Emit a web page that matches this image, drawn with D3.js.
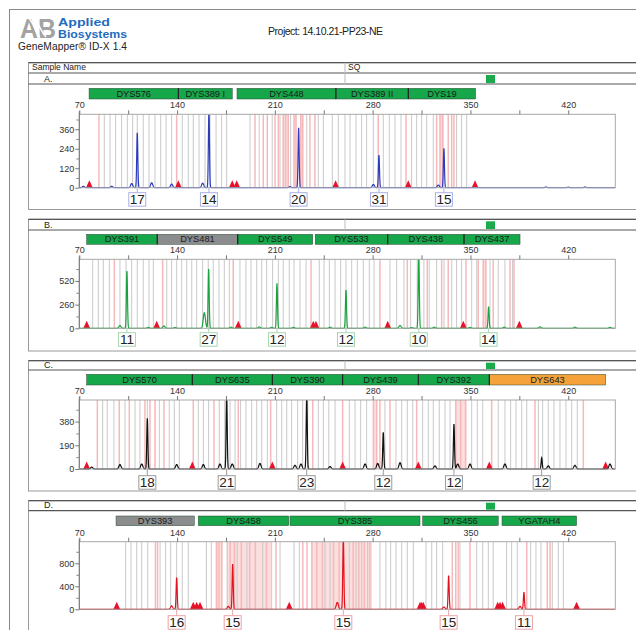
<!DOCTYPE html>
<html>
<head>
<meta charset="utf-8">
<title>GeneMapper ID-X electropherogram</title>
<script src="https://d3js.org/d3.v7.min.js"></script>
<style>
  body { margin: 0; background: #fff; }
  text { font-family: "Liberation Sans", Arial, sans-serif; }
</style>
</head>
<body>
<svg id="chart" width="636" height="630"></svg>
<script>
// ---------- data (base pairs / RFU) ----------
var xTicks = [70, 105, 140, 175, 210, 245, 280, 315, 350, 385, 420];
var xTickLabels = [70, 140, 210, 280, 350, 420];

// panel A
var lociA = [["DYS576", 77.0, 140.9, "g"], ["DYS389 I", 140.9, 179.5, "g"], ["DYS448", 182.9, 253.7, "g"],
             ["DYS389 II", 253.7, 305.5, "g"], ["DYS19", 305.5, 353.7, "g"]];
var allelesA = ["17", "14", "20", "31", "15"];
var allelePosA = [111.5, 162.8, 227.0, 284.5, 331.0];
var alleleHtA = [338, 480, 369, 201, 242];
var minorPosA = [72.9, 93.2, 107.5, 121.8, 136.1, 158.3, 220.8, 280.5, 327.0, 404, 420, 432];
var minorHtA = [8, 8, 25, 30, 22, 28, 6, 20, 16, 4, 3, 4];
var markersA = [77.2, 140.9, 179.5, 182.7, 253.5, 305.5, 353.3];
var yTicksA = [0, 120, 240, 360];
var yMinorA = [60, 180, 300, 420];
var grayA = [87.9, 92, 96, 100.3, 104.4, 108.2, 111.5, 115.8, 119.9, 124.2, 128.3, 132.1, 136.1, 143.7, 148, 151.6,
             155.7, 160, 163.6, 167.9, 171.9, 175.5, 192.2, 198.8, 208.1, 213.7, 221.3, 232.8, 241.1, 244.7, 251.1,
             255.4, 260.2, 263.8, 268.1, 272.1, 275.7, 280.5, 287.6, 291.9, 296, 300.3, 307.9, 311.5, 315.1, 318.7,
             323.4, 340.1, 343.7, 347.3];
var pinkA = [84.1, 139.7, 195.8, 201.7, 204.6, 210.1, 212.5, 216, 217.7, 219.6, 223.7, 225.1, 228.5, 229.9, 235.1,
             238.7, 284, 303.9, 325.8, 328.2, 330.1, 334.1, 336.6, 338.2];
var bandsA = [[215.5, 220], [223.5, 225.5], [228, 230.5], [328, 331]];

// panel B
var lociB = [["DYS391", 75.3, 125.8, "g"], ["DYS481", 125.8, 183.4, "k"], ["DYS549", 183.4, 237.1, "g"],
             ["DYS533", 238.9, 290.8, "g"], ["DYS438", 290.8, 345.4, "g"], ["DYS437", 345.4, 385.5, "g"]];
var allelesB = ["11", "27", "12", "12", "10", "14"];
var allelePosB = [104.1, 162.6, 211.5, 260.9, 313.0, 363.0];
var alleleHtB = [629, 650, 494, 420, 820, 237];
var minorPosB = [99.1, 119.4, 130.6, 138.5, 159.5, 178.6, 198.8, 207.7, 223.2, 249.5, 274.6, 299.6, 307.9, 324.1,
                 349.7, 374.2, 399.8, 424.8, 449.9];
var minorHtB = [30, 10, 25, 8, 170, 12, 15, 10, 10, 12, 12, 30, 8, 12, 10, 12, 15, 12, 10];
var markersB = [75.3, 125.4, 183.8, 237.5, 239.4, 290.8, 344.9, 385.0];
var yTicksB = [0, 260, 520];
var yMinorB = [130, 390, 650];
var grayB = [79.6, 83.6, 87.2, 91.5, 99.1, 103.4, 107.5, 111.5, 115.8, 119.9, 123, 132.6, 136.1, 139.7, 143.3, 146.9,
             150.5, 154, 158.3, 162.3, 165.9, 170, 173.8, 177.4, 185, 189.3, 192.9, 197, 200.6, 204.1, 208.4, 212.5,
             216, 220.3, 223.7, 228, 232.3, 241.8, 245.2, 249, 253.1, 257.1, 260.9, 265, 269, 273.3, 277.6, 281,
             292.4, 297.2, 302.4, 307.2, 311.9, 316.7, 320.5, 325.8, 331.1, 336.6, 340.1, 343.7, 350.9, 354.5, 364,
             369.9, 374.7, 380.2];
var pinkB = [95.1, 129.7, 180.2, 235.9, 285.2, 304.8, 319.1, 329.4, 334.1, 346.8, 355.6, 359.2, 361, 366.3, 378.3, 381.2];
var bandsB = [[358.8, 361.5]];

// panel C
var lociC = [["DYS570", 75.3, 150.9, "g"], ["DYS635", 150.9, 208.2, "g"], ["DYS390", 208.2, 258.5, "g"],
             ["DYS439", 258.5, 312.7, "g"], ["DYS392", 312.7, 363.5, "g"], ["DYS643", 363.5, 446.8, "o"]];
var allelesC = ["18", "21", "23", "12", "12", "12"];
var allelePosC = [118.7, 175.5, 232.8, 287.6, 338.2, 401.0];
var alleleHtC = [406, 590, 590, 294, 361, 90];
var minorPosC = [78.9, 99.1, 114.7, 139.7, 158.8, 170.7, 179.5, 199.3, 224.4, 228.7, 249.5, 274.6, 283.6, 299.6,
                 324.6, 340.9, 349.7, 374.7, 405.7, 424.8, 449.9];
var minorHtC = [15, 35, 40, 35, 35, 40, 40, 45, 30, 40, 20, 40, 45, 50, 25, 40, 40, 40, 25, 30, 40];
var markersC = [75.3, 150.9, 208.2, 258.5, 312.7, 363.5, 446.8];
var yTicksC = [0, 190, 380];
var yMinorC = [95, 285, 475];
var grayC = [86.7, 90, 94.8, 102.7, 109.9, 113.4, 118.7, 127.3, 134.4, 138, 141.6, 155.2, 158.8, 162.6, 170.2, 174.1,
             177.9, 181.5, 185.5, 189.3, 193.4, 197, 200.6, 204.6, 211.3, 214.9, 218.5, 222, 226.3, 229.9, 233.5,
             241.1, 244.7, 248.6, 253.1, 263.3, 267.4, 271.4, 275.7, 288.8, 296.7, 300.8, 304.8, 308.7, 315.8, 319.8,
             323.4, 327.7, 331.8, 335.4, 350.9, 354.9, 358.8, 369.9, 374.7, 378.8, 382.6, 386.7, 390.3, 398.6, 401.7,
             405.7, 409.8, 414.1, 418.4, 422.5, 426.5];
var pinkC = [82.9, 98.6, 105.8, 117, 120.6, 124.2, 130.6, 151.6, 166.4, 183.8, 207, 237.1, 258.5, 280.5, 282.9, 285.2,
             292.4, 311.5, 339.5, 343, 346.5, 365.2, 396.2, 430.8];
var bandsC = [[338.9, 347.3], [280.3, 283.2]];

// panel D
var lociD = [["DYS393", 96.3, 152.3, "k"], ["DYS458", 155.2, 219.9, "g"], ["DYS385", 220.8, 313.9, "g"],
             ["DYS456", 315.8, 369.9, "g"], ["YGATAH4", 372.6, 426.0, "g"]];
var allelesD = ["16", "15", "15", "15", "11"];
var allelePosD = [139.7, 179.8, 259.0, 334.4, 388.3];
var alleleHtD = [550, 788, 1250, 584, 296];
var minorPosD = [136.1, 176.7, 254.7, 331.0, 385.5];
var minorHtD = [60, 50, 120, 40, 50];
var markersD = [96.8, 151.6, 154.0, 156.4, 220.3, 313.9, 315.0, 316.2, 369.5, 371.2, 373.0, 426.0];
var yTicksD = [0, 400, 800];
var yMinorD = [200, 600, 1000];
var grayD = [103.2, 107, 111.1, 114.7, 119, 127.8, 131.8, 135.4, 139.7, 143.7, 148, 161, 164.5, 175.9, 183, 190, 201.3,
             207.7, 213.7, 223.7, 227.5, 245.9, 249.5, 263.3, 268.1, 272.1, 276.4, 285.2, 289.5, 292.9, 296.7, 300.8,
             304.8, 309.1, 318.2, 322.3, 325.8, 330.1, 342.5, 354.5, 358.8, 362.8, 366.3, 375.9, 379.5, 383.5, 393.1,
             396.9, 400.5, 408.6, 412.9, 416.5];
var pinkD = [124.5, 126, 168.3, 170, 172, 178, 181, 186, 192, 196, 204, 210.8, 230, 233, 236.5, 240, 244, 252, 256,
             266, 270, 274, 278, 337, 339.5, 341.3, 349.7, 390.3, 405, 407];
var bandsD = [[167.5, 172.5], [175.5, 207.5], [236.4, 279.5]];

// ---------- layout ----------
var W = 636;
var x = d3.scaleLinear().domain([70, 453.7]).range([79.3, 615.3]);

var locusFill = { g: "#17a74b", k: "#8b8c8e", o: "#f6a23a" };

var panels = [
  { letter: "A.", header: true, top: 62.7, rowTop: 73, rowBot: 84, locTop: 88.3, locBot: 99, plotTop: 114.3,
    base: 187.7, labTop: 192.7, bottom: 209.5, ymax: 452, trace: "#2a3bbd", box: "#a9b0e4",
    loci: lociA, al: allelesA, alPos: allelePosA, alHt: alleleHtA, miPos: minorPosA, miHt: minorHtA,
    mk: markersA, yt: yTicksA, ym: yMinorA, gray: grayA, pink: pinkA, bands: bandsA },
  { letter: "B.", top: 219.3, rowTop: 219.3, rowBot: 230, locTop: 234.3, locBot: 244.3, plotTop: 259.3,
    base: 328.3, labTop: 332.7, bottom: 351, ymax: 757, trace: "#19a33c", box: "#a6d8b0",
    loci: lociB, al: allelesB, alPos: allelePosB, alHt: alleleHtB, miPos: minorPosB, miHt: minorHtB,
    mk: markersB, yt: yTicksB, ym: yMinorB, gray: grayB, pink: pinkB, bands: bandsB },
  { letter: "C.", top: 360.7, rowTop: 360.7, rowBot: 370, locTop: 374.3, locBot: 385, plotTop: 400,
    base: 469, labTop: 475.7, bottom: 491, ymax: 553, trace: "#111111", box: "#9a9a9a",
    loci: lociC, al: allelesC, alPos: allelePosC, alHt: alleleHtC, miPos: minorPosC, miHt: minorHtC,
    mk: markersC, yt: yTicksC, ym: yMinorC, gray: grayC, pink: pinkC, bands: bandsC },
  { letter: "D.", top: 500.7, rowTop: 500.7, rowBot: 510.7, locTop: 516, locBot: 525.7, plotTop: 541.7,
    base: 609.3, labTop: 615.7, bottom: 640, ymax: 1175, trace: "#e2121f", box: "#eba3a8",
    loci: lociD, al: allelesD, alPos: allelePosD, alHt: alleleHtD, miPos: minorPosD, miHt: minorHtD,
    mk: markersD, yt: yTicksD, ym: yMinorD, gray: grayD, pink: pinkD, bands: bandsD }
];

var svg = d3.select("#chart");

// ---------- header ----------
svg.append("rect").attr("x", 9.5).attr("y", 9.5).attr("width", W).attr("height", 640)
  .attr("fill", "none").attr("stroke", "#888").attr("stroke-width", 1);

var logo = svg.append("g");
logo.append("text").attr("x", 20).attr("y", 37.5).attr("font-size", 28).attr("font-weight", "bold")
  .attr("textLength", 36).attr("lengthAdjust", "spacingAndGlyphs").attr("fill", "#a3a3a3").text("AB");
logo.append("path").attr("d", "M27,17 C35,22 33,30 40,37 M33,17 C40,24 40,31 46,37")
  .attr("fill", "none").attr("stroke", "#fff").attr("stroke-width", 1.5);
logo.append("text").attr("x", 58).attr("y", 25.8).attr("font-size", 11.5).attr("font-weight", "bold")
  .attr("fill", "#1f6cc0").attr("textLength", 52).attr("lengthAdjust", "spacingAndGlyphs").text("Applied");
logo.append("text").attr("x", 58).attr("y", 38.2).attr("font-size", 11.5).attr("font-weight", "bold")
  .attr("fill", "#1f6cc0").attr("textLength", 69).attr("lengthAdjust", "spacingAndGlyphs").text("Biosystems");
svg.append("text").attr("x", 18).attr("y", 50).attr("font-size", 10.2).attr("fill", "#222")
  .attr("textLength", 109).text("GeneMapper\u00AE ID-X  1.4");
svg.append("text").attr("x", 268).attr("y", 35).attr("font-size", 10.5).attr("fill", "#222")
  .attr("textLength", 115).text("Project:  14.10.21-PP23-NE");

// ---------- panels ----------
function peakTrace(p) {
  var pts = [];
  for (var b = 70; b <= 453.7; b += 0.1) {
    var v = 0;
    p.alPos.forEach(function (c, i) { v += p.alHt[i] * Math.exp(-Math.pow((b - c) / 0.55, 2)); });
    p.miPos.forEach(function (c, i) { v += p.miHt[i] * Math.exp(-Math.pow((b - c) / 1.1, 2)); });
    pts.push([b, v]);
  }
  return pts;
}

panels.forEach(function (p, pi) {
  var g = svg.append("g");
  var y = d3.scaleLinear().domain([0, p.ymax]).range([p.base, p.plotTop]);

  // frame and row
  g.append("rect").attr("x", 28.5).attr("y", p.top).attr("width", W).attr("height", p.bottom - p.top)
    .attr("fill", "none").attr("stroke", "#9a9a9a").attr("stroke-width", 1);
  if (p.header) {
    g.append("text").attr("x", 32).attr("y", 70).attr("font-size", 8.5).attr("fill", "#222").text("Sample Name");
    g.append("text").attr("x", 348).attr("y", 70).attr("font-size", 8.5).attr("fill", "#222").text("SQ");
    g.append("line").attr("x1", 28.5).attr("x2", W).attr("y1", p.top).attr("y2", p.top)
      .attr("stroke", "#555").attr("stroke-width", 1.2);
  }
  g.append("line").attr("x1", 28.5).attr("x2", W).attr("y1", p.rowTop).attr("y2", p.rowTop)
    .attr("stroke", "#555").attr("stroke-width", 1.2);
  g.append("line").attr("x1", 28.5).attr("x2", W).attr("y1", p.rowBot).attr("y2", p.rowBot)
    .attr("stroke", "#555").attr("stroke-width", 1.2);
  g.append("line").attr("x1", 345).attr("x2", 345).attr("y1", p.top).attr("y2", p.rowBot)
    .attr("stroke", "#bbb").attr("stroke-width", 1);
  g.append("text").attr("x", 44).attr("y", p.rowBot - 2.5).attr("font-size", 9).attr("fill", "#222").text(p.letter);
  g.append("rect").attr("x", 486).attr("y", p.rowTop + 2).attr("width", 9).attr("height", p.rowBot - p.rowTop - 3)
    .attr("fill", "#1aab4c");

  // loci bars
  var lg = g.append("g");
  p.loci.forEach(function (l, i) {
    lg.append("rect").attr("x", x(l[1])).attr("y", p.locTop).attr("width", x(l[2]) - x(l[1]))
      .attr("height", p.locBot - p.locTop).attr("fill", locusFill[l[3]])
      .attr("stroke", "#2c4a34").attr("stroke-width", 0.5);
    if (i > 0 && Math.abs(p.loci[i - 1][2] - l[1]) < 0.5) {
      lg.append("line").attr("x1", x(l[1])).attr("x2", x(l[1])).attr("y1", p.locTop).attr("y2", p.locBot)
        .attr("stroke", "#222").attr("stroke-width", 1.2);
    }
    lg.append("text").attr("x", (x(l[1]) + x(l[2])) / 2).attr("y", p.locBot - 2.2)
      .attr("text-anchor", "middle").attr("font-size", 9.3).attr("fill", "#1b1b1b").text(l[0]);
  });

  // bins
  var clipId = "clip" + pi;
  g.append("clipPath").attr("id", clipId).append("rect")
    .attr("x", x(70)).attr("y", p.plotTop).attr("width", x(453.7) - x(70)).attr("height", p.base - p.plotTop + 1);
  var plot = g.append("g").attr("clip-path", "url(#" + clipId + ")");
  plot.selectAll(".band").data(p.bands).enter().append("rect")
    .attr("x", function (d) { return x(d[0]); }).attr("width", function (d) { return x(d[1]) - x(d[0]); })
    .attr("y", p.plotTop).attr("height", p.base - p.plotTop).attr("fill", "#fbdede");
  plot.selectAll(".gray").data(p.gray).enter().append("line")
    .attr("x1", function (d) { return x(d); }).attr("x2", function (d) { return x(d); })
    .attr("y1", p.plotTop).attr("y2", p.base).attr("stroke", "#c9c9c9").attr("stroke-width", 1);
  plot.selectAll(".pink").data(p.pink).enter().append("line")
    .attr("x1", function (d) { return x(d); }).attr("x2", function (d) { return x(d); })
    .attr("y1", p.plotTop).attr("y2", p.base).attr("stroke", "#f6b9bb").attr("stroke-width", 1.5);

  // plot frame
  g.append("rect").attr("x", x(70)).attr("y", p.plotTop).attr("width", x(453.7) - x(70))
    .attr("height", p.base - p.plotTop).attr("fill", "none").attr("stroke", "#a8a8a8").attr("stroke-width", 1);

  // x axis on top
  var xa = g.append("g").attr("transform", "translate(0," + p.plotTop + ")")
    .call(d3.axisTop(x).tickValues(xTicks).tickSize(4)
      .tickFormat(function (d) { return xTickLabels.indexOf(d) >= 0 ? d : ""; }));
  xa.select(".domain").remove();
  xa.selectAll("line").attr("stroke", "#777");
  xa.selectAll("text").attr("font-size", 9).attr("fill", "#333").attr("dy", "0.1em")
    .attr("font-family", "Liberation Sans, Arial, sans-serif");

  // y axis
  var ya = g.append("g").attr("transform", "translate(" + x(70) + ",0)")
    .call(d3.axisLeft(y).tickValues(p.yt).tickSize(4));
  ya.select(".domain").attr("stroke", "#777").attr("d", "M0," + (p.plotTop - 3) + "V" + p.base);
  ya.selectAll("line").attr("stroke", "#777");
  ya.selectAll("text").attr("font-size", 9).attr("fill", "#333").attr("x", -5)
    .attr("font-family", "Liberation Sans, Arial, sans-serif");
  var ym = g.append("g").attr("transform", "translate(" + x(70) + ",0)")
    .call(d3.axisLeft(y).tickValues(p.ym).tickSize(3).tickFormat(""));
  ym.select(".domain").remove();
  ym.selectAll("line").attr("stroke", "#888");

  // size markers (red triangles)
  plot.selectAll(".mk").data(p.mk).enter().append("path")
    .attr("d", function (d) {
      var cx = x(d);
      return "M" + (cx - 3.4) + "," + p.base + "L" + cx + "," + (p.base - 7.5) + "L" + (cx + 3.4) + "," + p.base + "Z";
    })
    .attr("fill", "#e8112a");

  // trace
  var line = d3.line().x(function (d) { return x(d[0]); }).y(function (d) { return y(d[1]); });
  plot.append("path").datum(peakTrace(p)).attr("d", line)
    .attr("fill", "none").attr("stroke", p.trace).attr("stroke-width", 1.2);

  // allele labels
  p.al.forEach(function (a, i) {
    var cx = x(p.alPos[i]);
    g.append("line").attr("x1", cx).attr("x2", cx).attr("y1", p.base).attr("y2", p.labTop)
      .attr("stroke", p.box).attr("stroke-width", 1);
    g.append("rect").attr("x", cx - 8.5).attr("y", p.labTop).attr("width", 17).attr("height", 13.5)
      .attr("fill", "#fff").attr("stroke", p.box).attr("stroke-width", 1);
    g.append("text").attr("x", cx).attr("y", p.labTop + 11).attr("text-anchor", "middle")
      .attr("font-family", "Liberation Serif, Times New Roman, serif").attr("font-size", 13.5)
      .attr("fill", "#222").text(a);
  });
});
</script>
</body>
</html>
